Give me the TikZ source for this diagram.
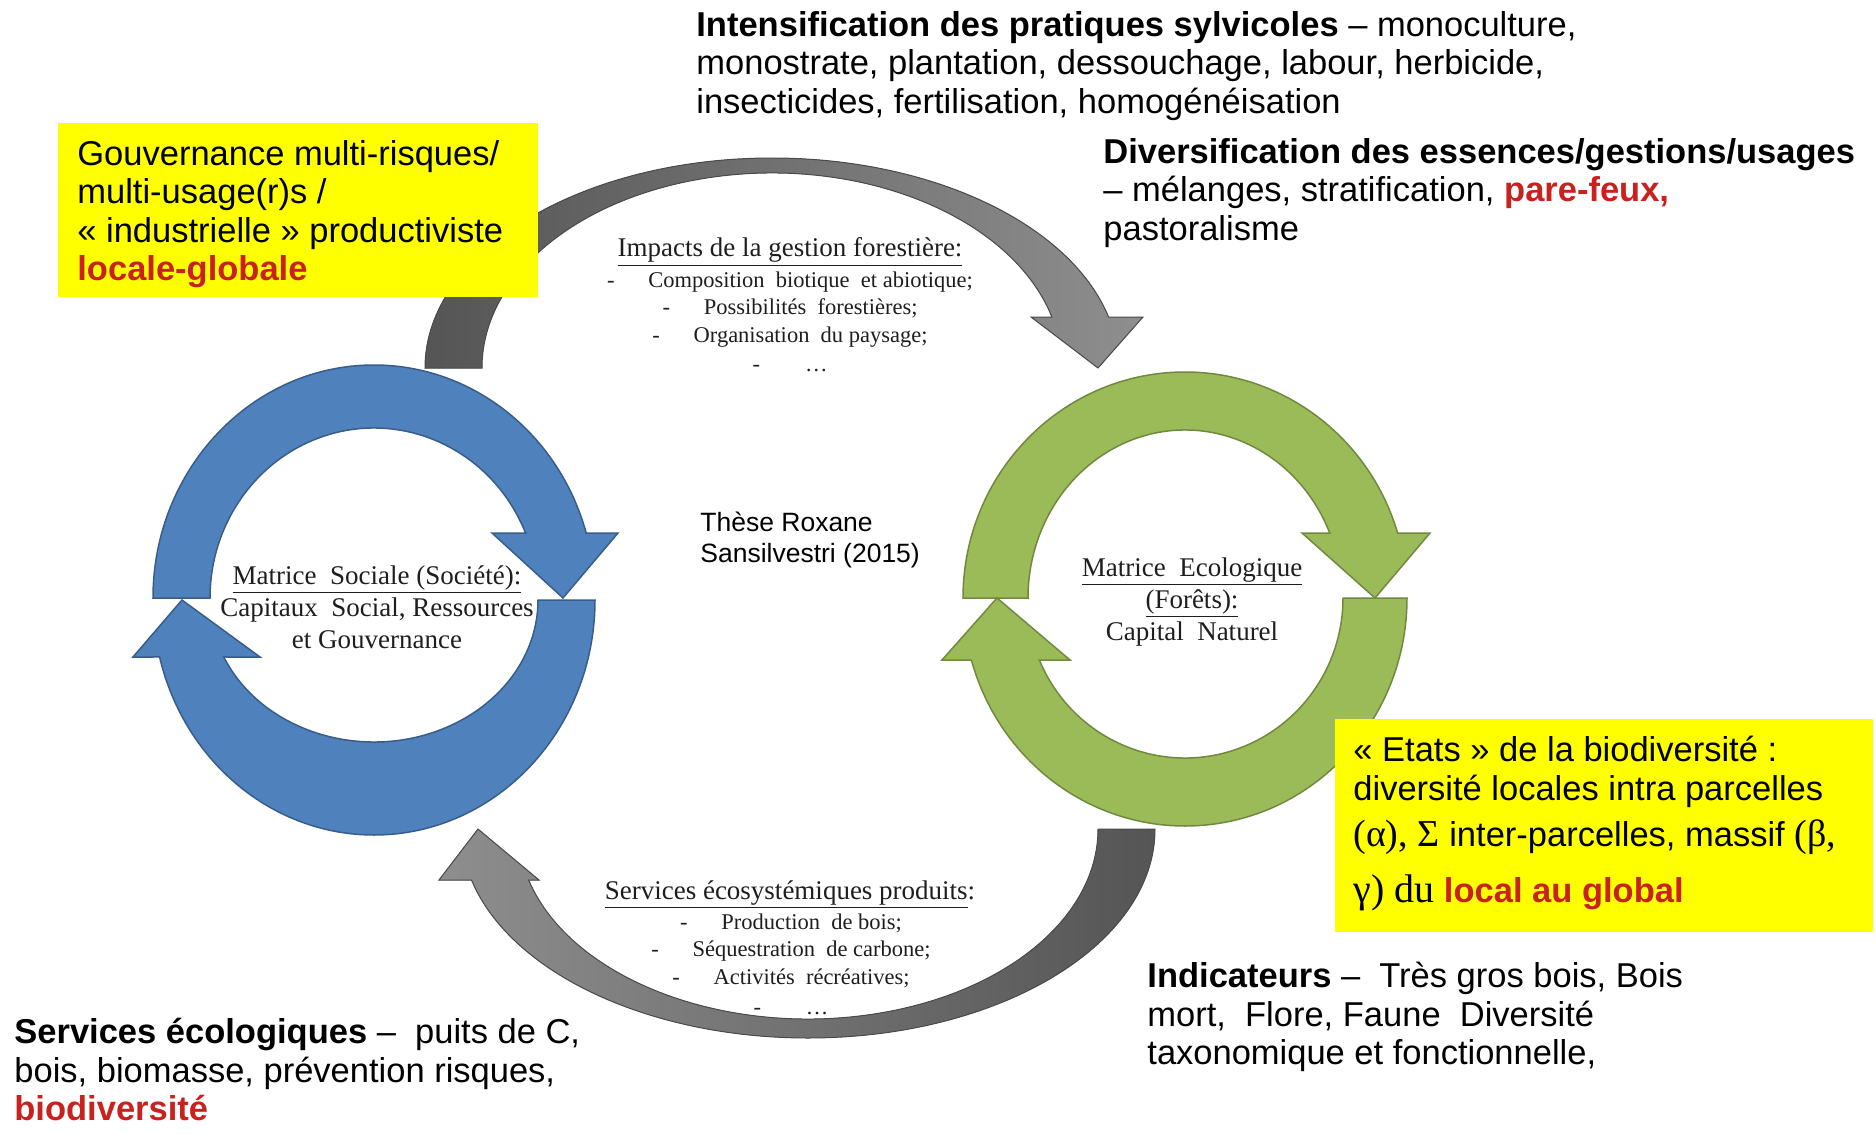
\documentclass[tikz,border=0pt]{standalone}
\usepackage{fontspec}
\setmainfont{Liberation Sans}
\newfontfamily\tnr{Liberation Serif}
\definecolor{socialBlue}{HTML}{4F81BD}
\definecolor{socialEdge}{HTML}{385D8A}
\definecolor{ecoGreen}{HTML}{9BBB59}
\definecolor{ecoEdge}{HTML}{71893F}
\definecolor{flowLight}{HTML}{8E8E8E}
\definecolor{flowDark}{HTML}{555555}
\definecolor{flowEdge}{HTML}{4A4A4A}
\definecolor{noteYellow}{HTML}{FFFF00}
\definecolor{keyRed}{HTML}{C9211E}
\definecolor{inkGray}{HTML}{1E1E1E}

% curved block arrow: outer rx/ry, inner rx/ry, head height, outer base, tip, inner base
\newcommand{\ringarrow}[8]{(180:#1 and #2)
  arc[start angle=180,end angle={360-asin(#5/#2)},x radius=#1,y radius=#2]
  -- (#6,-#5) -- (#7,0) -- (#8,-#5)
  -- ({360-asin(#5/#4)}:#3 and #4)
  arc[start angle={360-asin(#5/#4)},end angle=180,x radius=#3,y radius=#4]
  -- cycle}

\begin{document}
\begin{tikzpicture}[x=0.5pt,y=-0.5pt,every node/.style={inner sep=0pt}]
      \tikzstyle{txt}=[font=\fontsize{17.25}{19.25}\selectfont,align=left,anchor=north west]
      \tikzstyle{flowhead}=[font=\tnr\fontsize{13.5}{16}\selectfont,anchor=north,text=inkGray]
      \tikzstyle{flowlist}=[font=\tnr\fontsize{11.25}{13.75}\selectfont,align=center,anchor=north,text=inkGray]
      \tikzstyle{mtx}=[font=\tnr\fontsize{13.5}{16}\selectfont,align=center,anchor=north,text=inkGray]
      \tikzstyle{socialArrow}=[fill=socialBlue,draw=socialEdge,line width=0.75pt]
      \tikzstyle{ecoArrow}=[fill=ecoGreen,draw=ecoEdge,line width=0.75pt]
      \tikzstyle{flowArrow}=[draw=flowEdge,line width=0.5pt]
      \useasboundingbox (0,0) rectangle (1876,1135);
      % grey flows between the two matrices
      \filldraw[flowArrow,left color=flowDark,right color=flowLight,shift={(772,368)}]
            \ringarrow{347}{210}{290}{195}{51}{371}{326}{259};
      \filldraw[flowArrow,left color=flowLight,right color=flowDark,shift={(808,829)},rotate=180]
            \ringarrow{347}{209}{290}{190}{51}{369}{330}{269};
      % social and ecological cycles
      \filldraw[socialArrow,shift={(374,598)}] \ringarrow{221}{233}{164}{170}{65}{244}{189}{118};
      \filldraw[socialArrow,shift={(374,600)},rotate=180] \ringarrow{221}{235}{164}{142}{57}{241}{192}{114};
      \filldraw[ecoArrow,shift={(1185,598)}] \ringarrow{222}{226}{157}{168}{65}{245}{190}{117};
      \filldraw[ecoArrow,shift={(1185,598)},rotate=180] \ringarrow{222}{228}{158}{160}{62}{243}{188}{115};
      % yellow notes
      \fill[noteYellow] (58,123) rectangle (538,297);
      \fill[noteYellow] (1335,719) rectangle (1873,932);
      \node[txt] (intens) at (696,11) {\textbf{Intensification des pratiques sylvicoles} – monoculture,\\
            monostrate, plantation, dessouchage, labour, herbicide,\\
            insecticides, fertilisation, homogénéisation};
      \node[txt] (divers) at (1103,138) {\textbf{Diversification des essences/gestions/usages}\\
            – mélanges, stratification, \textbf{\color{keyRed}pare-feux,}\\
            pastoralisme};
      \node[txt] (gouv) at (77,140) {Gouvernance multi-risques/\\
            multi-usage(r)s /\\
            « industrielle » productiviste\\
            \textbf{\color{keyRed}locale-globale}};
      \node[txt] (etats) at (1353,736) {« Etats » de la biodiversité :\\
            diversité locales intra parcelles\\[3.75pt]
            {\tnr\fontsize{19}{19}\selectfont(α), Σ} inter-parcelles, massif {\tnr\fontsize{19}{19}\selectfont(β,}\\[8.75pt]
            {\tnr\fontsize{20}{20}\selectfont γ) du} \textbf{\color{keyRed}local au global}};
      \node[txt] (indic) at (1147,962) {\textbf{Indicateurs} –\ \ Très gros bois, Bois\\
            mort,\ \ Flore, Faune\ \ Diversité\\
            taxonomique et fonctionnelle,};
      \node[txt] (servEco) at (14,1018) {\textbf{Services écologiques} –\ \ puits de C,\\
            bois, biomasse, prévention risques,\\
            \textbf{\color{keyRed}biodiversité}};
      \node[txt,font=\fontsize{13.25}{15.5}\selectfont] (these) at (700,512) {Thèse Roxane\\Sansilvestri (2015)};
      % texts inside the cycles
      \node[flowhead] (impactsHead) at (790,237) {\underline{Impacts de la gestion forestière:}};
      \node[flowlist] (impacts) at (790,271) {-\hspace{1.5em}Composition\ \ biotique\ \ et abiotique;\\
            -\hspace{1.5em}Possibilités\ \ forestières;\\
            -\hspace{1.5em}Organisation\ \ du paysage;\\[1pt]
            -\hspace{2em}…};
      \node[flowhead] (servicesHead) at (790,880) {\underline{Services écosystémiques produits}:};
      \node[flowlist] (services) at (791,913) {-\hspace{1.5em}Production\ \ de bois;\\
            -\hspace{1.5em}Séquestration\ \ de carbone;\\
            -\hspace{1.5em}Activités\ \ récréatives;\\[1.5pt]
            -\hspace{2em}…};
      \node[mtx] (social) at (377,565) {\underline{Matrice\ \ Sociale (Société):}\\
            Capitaux\ \ Social, Ressources\\ et Gouvernance};
      \node[mtx] (ecolo) at (1192,557) {\underline{Matrice\ \ Ecologique}\\
            \underline{(Forêts):}\\ Capital\ \ Naturel};
    \end{tikzpicture}
\end{document}
